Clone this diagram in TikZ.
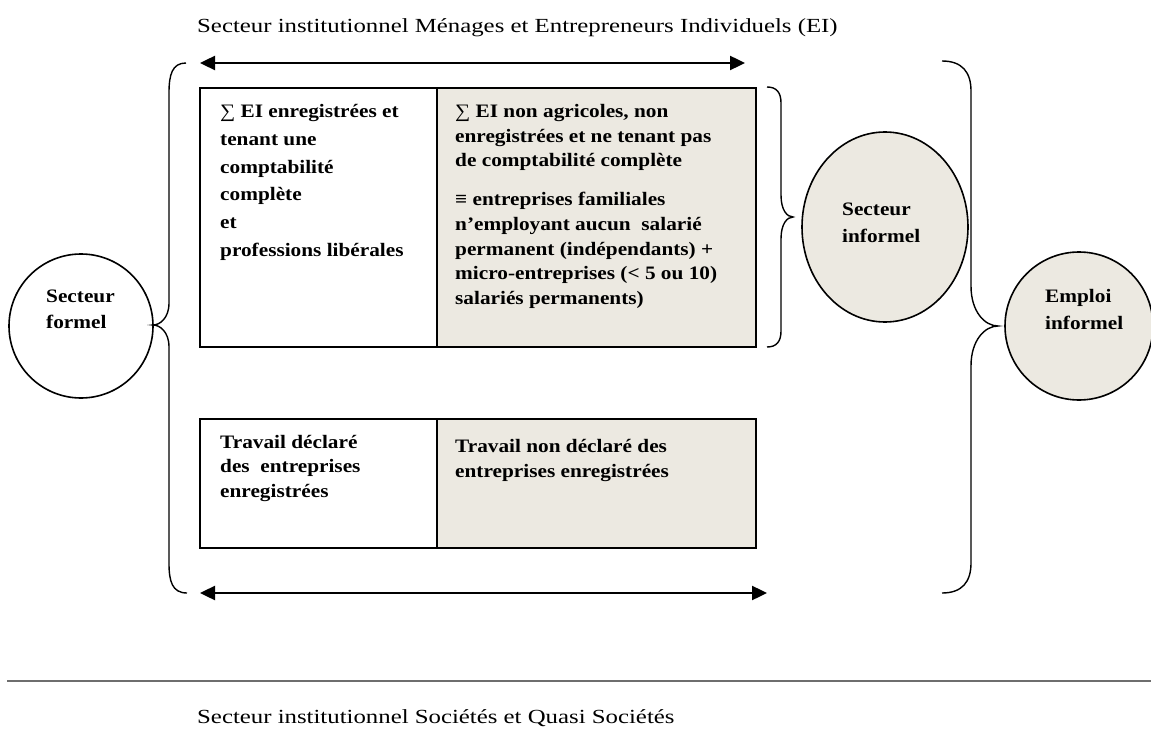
\documentclass[tikz,border=0pt]{standalone}
\usepackage{fontspec}
\usetikzlibrary{arrows.meta,shapes.geometric}
\newfontfamily\bodyfont[FakeStretch=1.12]{Liberation Serif}
\newfontfamily\titlefont[FakeStretch=1.24]{Liberation Serif}
\newcommand{\sumsym}{{\mdseries ∑}}
\definecolor{beige}{RGB}{236,233,225}
\definecolor{rulegray}{RGB}{110,110,110}
\begin{document}
\begin{tikzpicture}[x=1pt,y=-1pt,
  txt/.style={anchor=base west,inner sep=0pt,font=\bodyfont\bfseries\fontsize{19}{23}\selectfont},
  ttl/.style={anchor=base west,inner sep=0pt,font=\titlefont\fontsize{20}{24}\selectfont},
  cell/.style={draw,line width=1.8pt,anchor=north west,inner sep=0pt},
  darrow/.style={line width=2.4pt,{Triangle[length=15pt,width=14pt]}-{Triangle[length=15pt,width=14pt]}},
  bracestyle/.style={line width=1.4pt},
  ring/.style={draw,line width=1.6pt,inner sep=0pt}]
\useasboundingbox (0,0) rectangle (1151,738);
\fill[white] (0,0) rectangle (1151,738);

% titles
\node (t1) [ttl] at (197,33) {Secteur institutionnel Ménages et Entrepreneurs Individuels (EI)};
\node (t2) [ttl] at (197,723) {Secteur institutionnel Sociétés et Quasi Sociétés};

% arrows
\coordinate (a1l) at (200,63);
\coordinate (a1r) at (745,63);
\coordinate (a2l) at (200,593);
\coordinate (a2r) at (767,593);
\draw[darrow] (a1l) -- (a1r);
\draw[darrow] (a2l) -- (a2r);

% top table
\node (c2) [cell,fill=beige,minimum width=319pt,minimum height=259pt] at (436,87) {};
\node (c1) [cell,fill=white,minimum width=237pt,minimum height=259pt] at (199,87) {};
% bottom table
\node (d2) [cell,fill=beige,minimum width=319pt,minimum height=129pt] at (436,418) {};
\node (d1) [cell,fill=white,minimum width=237pt,minimum height=129pt] at (199,418) {};

% left column text
\node (l1) [txt] at (220,118) {\sumsym\ EI enregistrées et};
\node (l2) [txt] at (220,145.6) {tenant une};
\node (l3) [txt] at (220,173.2) {comptabilité};
\node (l4) [txt] at (220,200.8) {complète};
\node (l5) [txt] at (220,228.4) {et};
\node (l6) [txt] at (220,256) {professions libérales};

% right column text
\node (r1) [txt] at (455,118) {\sumsym\ EI non agricoles, non};
\node (r2) [txt] at (455,142.5) {enregistrées et ne tenant pas};
\node (r3) [txt] at (455,167) {de comptabilité complète};
\node (r4) [txt] at (455,206) {≡ entreprises familiales};
\node (r5) [txt] at (455,230.5) {n’employant aucun\ \ salarié};
\node (r6) [txt] at (455,255) {permanent (indépendants) +};
\node (r7) [txt] at (455,279.5) {micro-entreprises (< 5 ou 10)};
\node (r8) [txt] at (455,304) {salariés permanents)};

% bottom table text
\node (b1) [txt] at (220,448) {Travail déclaré};
\node (b2) [txt] at (220,472) {des\ \ entreprises};
\node (b3) [txt] at (220,497) {enregistrées};
\node (b4) [txt] at (455,452) {Travail non déclaré des};
\node (b5) [txt] at (455,477) {entreprises enregistrées};

% circles
\node (sf) [ring,circle,fill=white,minimum size=144pt] at (81,326) {};
\node (si) [ring,ellipse,fill=beige,minimum width=166pt,minimum height=190pt] at (885,227) {};
\node (ei) [ring,circle,fill=beige,minimum size=148pt] at (1079,326) {};
\node (sf1) [txt] at (46,302) {Secteur};
\node (sf2) [txt] at (46,328) {formel};
\node (si1) [txt] at (842,215) {Secteur};
\node (si2) [txt] at (842,243) {informel};
\node (ei1) [txt] at (1045,302) {Emploi};
\node (ei2) [txt] at (1045,329) {informel};

% braces
\draw[bracestyle] (186,63) .. controls (172,63) and (169,75) .. (169,93) -- (169,303)
  .. controls (169,318) and (160,325) .. (153,325) .. controls (160,325) and (169,332) .. (169,347)
  -- (169,563) .. controls (169,581) and (172,593) .. (187,593);
\draw[bracestyle] (767,87) .. controls (777,87) and (781,93) .. (781,103) -- (781,195)
  .. controls (781,210) and (787,217) .. (793,217) .. controls (787,217) and (781,224) .. (781,239)
  -- (781,331) .. controls (781,341) and (777,347) .. (767,347);
\draw[bracestyle] (942,61) .. controls (962,61) and (971,72) .. (971,91) -- (971,286)
  .. controls (971,312) and (985,326) .. (998,326) .. controls (985,326) and (971,340) .. (971,366)
  -- (971,563) .. controls (971,582) and (962,593) .. (942,593);

% separator
\coordinate (hl) at (7,681);
\coordinate (hr) at (1151,681);
\draw[rulegray,line width=1.6pt] (hl) -- (hr);
\end{tikzpicture}
\end{document}
